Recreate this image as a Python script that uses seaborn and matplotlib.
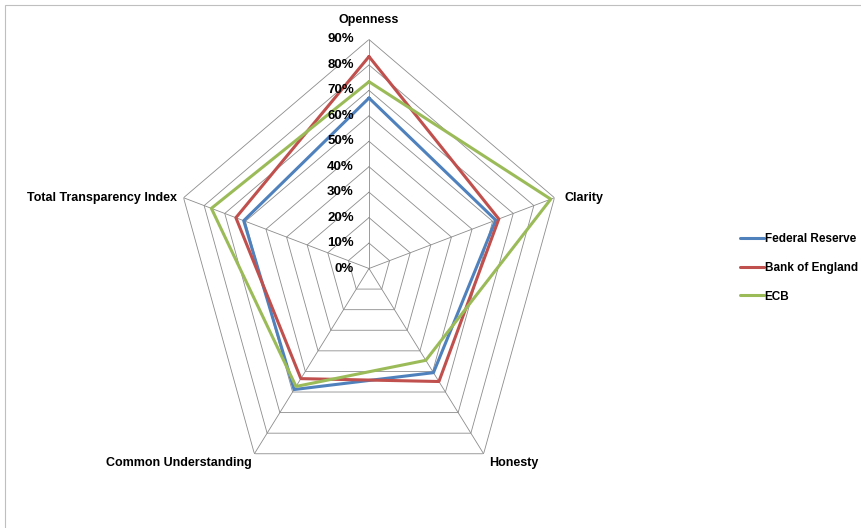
import numpy as np
import pandas as pd
import seaborn as sns
import matplotlib.pyplot as plt
from matplotlib.patches import Rectangle

# data
categories = ["Openness", "Clarity", "Honesty", "Common Understanding", "Total Transparency Index"]
fed = [0.67, 0.615, 0.506, 0.588, 0.608]
boe = [0.833, 0.63, 0.549, 0.535, 0.646]
ecb = [0.734, 0.882, 0.446, 0.573, 0.765]
series_names = ["Federal Reserve", "Bank of England", "ECB"]
levels = [0.1, 0.2, 0.3, 0.4, 0.5, 0.6, 0.7, 0.8, 0.9]
level_labels = ["0%", "10%", "20%", "30%", "40%", "50%", "60%", "70%", "80%", "90%"]
colors = ["#4F81BD", "#C0504D", "#9BBB59"]

sns.set_theme(style="white")
plt.rcParams['font.family'] = ['Liberation Sans', 'DejaVu Sans']
plt.rcParams['font.weight'] = 'bold'
plt.rcParams['text.color'] = 'black'

n = len(categories)
angles = np.linspace(0, 2 * np.pi, n, endpoint=False)
closed = np.append(angles, 2 * np.pi)

rows = []
for name, vals in zip(series_names, [fed, boe, ecb]):
    vv = list(vals) + [vals[0]]
    for t, v in zip(closed, vv):
        rows.append({"theta": t, "value": v, "series": name})
df = pd.DataFrame(rows)

fig = plt.figure(figsize=(8.61, 5.28), dpi=100)
ax = fig.add_axes([174 / 861, 30.5 / 528, 390 / 861, 458 / 528], projection='polar')
ax.set_aspect('auto')
ax.set_theta_offset(np.pi / 2)
ax.set_theta_direction(-1)
ax.set_ylim(0, 0.9)
ax.grid(False)
ax.spines['polar'].set_visible(False)
ax.set_xticks([])
ax.set_yticks([])
ax.set_facecolor('none')

# pentagon web
for lv in levels:
    ax.plot(closed, [lv] * (n + 1), color="#8c8c8c", lw=0.6, zorder=1)
for a in angles:
    ax.plot([a, a], [0, 0.9], color="#8c8c8c", lw=0.6, zorder=1)

sns.lineplot(data=df, x="theta", y="value", hue="series", palette=colors,
             sort=False, estimator=None, lw=2.2, ax=ax, zorder=3)
ax.set_xlabel("")
ax.set_ylabel("")

# radial labels
for lv, lab in zip([0] + levels, level_labels):
    ax.annotate(lab, xy=(0, lv), xytext=(-11, 0), textcoords='offset points',
                ha='right', va='center', fontsize=9.5, fontweight='bold', color='black')

# category labels
offsets = [((0, 10), 'center', 'bottom'),
           ((7, 0), 'left', 'center'),
           ((4, -2), 'left', 'top'),
           ((-2, -2), 'right', 'top'),
           ((-5, 0), 'right', 'center')]
for a, lab, (off, ha, va) in zip(angles, categories, offsets):
    ax.annotate(lab, xy=(a, 0.9), xytext=off, textcoords='offset points',
                ha=ha, va=va, fontsize=9, fontweight='bold', color='black')

handles, labels = ax.get_legend_handles_labels()
ax.legend(handles, labels, loc='center left', bbox_to_anchor=(734 / 861, 1 - 268 / 528),
          bbox_transform=fig.transFigure, frameon=False, fontsize=8.5,
          handlelength=2.0, handletextpad=0.1, labelspacing=1.4, borderpad=0)

fig.add_artist(Rectangle((5 / 861, -0.1), 1.2, 1.1 - 5 / 528, transform=fig.transFigure,
                         fill=False, edgecolor="#bfbfbf", lw=0.8))

fig.savefig("out.png", dpi=100)
